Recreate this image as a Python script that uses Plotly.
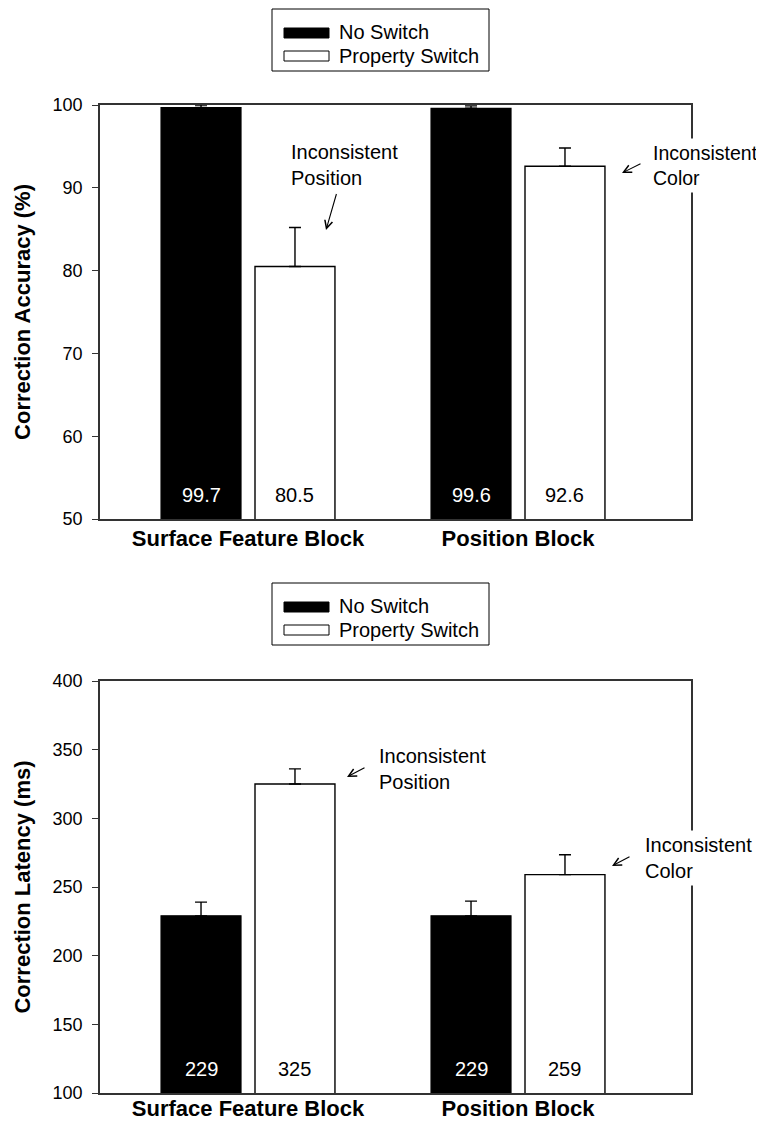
import plotly.graph_objects as go

# ---------------- data ----------------
groups = ["Surface Feature Block", "Position Block"]
series_names = ["No Switch", "Property Switch"]

acc_no_switch = [99.7, 99.6]
acc_switch = [80.5, 92.6]
acc_no_switch_err = [0.3, 0.3]
acc_switch_err = [4.7, 2.2]

lat_no_switch = [229, 229]
lat_switch = [325, 259]
lat_no_switch_err = [10, 10.7]
lat_switch_err = [11, 14.5]

acc_ticks = [50, 60, 70, 80, 90, 100]
lat_ticks = [100, 150, 200, 250, 300, 350, 400]

# ---------------- layout helpers ----------------
# the page body has an 8px default margin; the figure is sized so the page
# does not overflow the window, and positions are expressed in window pixels
PAGE_OFF = 8
W, H = 764 - PAGE_OFF, 1130 - 2 * PAGE_OFF
PLOT_L, PLOT_R, PLOT_T, PLOT_B = 100, 691, 105, 1093      # window pixels
L = PLOT_L - PAGE_OFF
T = PLOT_T - PAGE_OFF
R = W - (PLOT_R - PAGE_OFF)
B = H - (PLOT_B - PAGE_OFF)
FONT = "Liberation Sans, Arial, Helvetica, sans-serif"
AX = "#333333"
BARGAP = 0.304
BARGROUPGAP = 0.149
OFF = (1 - BARGAP) / 4


def px(x):
    return (x - PLOT_L) / (PLOT_R - PLOT_L)


def py(y):
    return (PLOT_B - y) / (PLOT_B - PLOT_T)


fig = go.Figure()

panels = [
    ("x", "y", acc_no_switch, acc_switch, acc_no_switch_err, acc_switch_err),
    ("x2", "y2", lat_no_switch, lat_switch, lat_no_switch_err, lat_switch_err),
]
for xa, ya, v0, v1, e0, e1 in panels:
    fig.add_trace(go.Bar(
        x=groups, y=v0, name=series_names[0], xaxis=xa, yaxis=ya,
        marker=dict(color="black", line=dict(color="black", width=1.2)),
        error_y=dict(type="data", symmetric=False, array=e0, arrayminus=[0] * len(e0),
                     color="black", thickness=1.4, width=6),
        showlegend=False,
    ))
    fig.add_trace(go.Bar(
        x=groups, y=v1, name=series_names[1], xaxis=xa, yaxis=ya,
        marker=dict(color="white", line=dict(color="black", width=1.4)),
        error_y=dict(type="data", symmetric=False, array=e1, arrayminus=[0] * len(e1),
                     color="black", thickness=1.4, width=6),
        showlegend=False,
    ))

annotations = []
shapes = []

# value labels inside bars
for xa, ya, v0, v1, ymin in [("x", "y", acc_no_switch, acc_switch, acc_ticks[0]),
                             ("x2", "y2", lat_no_switch, lat_switch, lat_ticks[0])]:
    for i in range(len(groups)):
        for vals, sign, col in [(v0, -1, "white"), (v1, 1, "black")]:
            annotations.append(dict(
                x=i + sign * OFF, y=ymin, xref=xa, yref=ya, text=f"{vals[i]:g}",
                showarrow=False, yanchor="middle", yshift=24,
                font=dict(family=FONT, size=20, color=col),
            ))

# legends (drawn manually with long swatches like the original)
for top in [9, 583]:
    shapes.append(dict(type="rect", xref="paper", yref="paper",
                       x0=px(272), x1=px(489), y0=py(top), y1=py(top + 62),
                       line=dict(color="black", width=1), fillcolor="white", layer="above"))
    shapes.append(dict(type="rect", xref="paper", yref="paper",
                       x0=px(284), x1=px(329), y0=py(top + 19), y1=py(top + 29),
                       line=dict(color="black", width=1), fillcolor="black", layer="above"))
    shapes.append(dict(type="rect", xref="paper", yref="paper",
                       x0=px(284), x1=px(329), y0=py(top + 42), y1=py(top + 52),
                       line=dict(color="black", width=1), fillcolor="white", layer="above"))
    for name, dy in [(series_names[0], 23), (series_names[1], 47)]:
        annotations.append(dict(x=px(337), y=py(top + dy), xref="paper", yref="paper",
                                text=name, showarrow=False, xanchor="left", yanchor="middle",
                                font=dict(family=FONT, size=20, color="black")))

# callout texts
callouts = [
    ("Inconsistent<br>Position", 287, 137, 20),
    ("Inconsistent<br>Color", 649, 138, 19.5),
    ("Inconsistent<br>Position", 375, 741, 20),
    ("Inconsistent<br>Color", 641, 830, 20),
]
for txt, x0, y0, fs in callouts:
    annotations.append(dict(x=px(x0), y=py(y0), xref="paper", yref="paper", text=txt,
                            showarrow=False, xanchor="left", yanchor="top", align="left",
                            bgcolor="white", borderpad=3,
                            font=dict(family=FONT, size=fs, color="black")))

# arrows (tail -> head) in window pixels
arrows = [
    ((337, 192), (326, 230)),
    ((642, 163), (622, 173)),
    ((366, 767), (347, 777)),
    ((631, 856), (612, 866)),
]
for (tx, ty), (hx, hy) in arrows:
    annotations.append(dict(x=px(hx), y=py(hy), xref="paper", yref="paper",
                            ax=tx - hx, ay=ty - hy, text=" ", showarrow=True,
                            arrowhead=5, arrowsize=1.4, arrowwidth=1.1, arrowcolor="black",
                            standoff=0, startstandoff=0, font=dict(size=1)))

xaxis_common = dict(
    type="category", range=[(100 - 248) / 270, (691 - 248) / 270],
    showline=True, linecolor=AX, linewidth=1.5, mirror=True, ticks="",
    showgrid=False, zeroline=False,
    tickfont=dict(family=FONT, size=22, color="black", weight="bold"),
)
yaxis_common = dict(
    showline=True, linecolor=AX, linewidth=1.5, mirror=True, ticks="outside",
    ticklen=6, tickcolor=AX, tickwidth=1.2, showgrid=False, zeroline=False,
    tickfont=dict(family=FONT, size=18, color="black"),
    ticklabelstandoff=6,
)

fig.update_layout(
    width=W, height=H,
    margin=dict(l=L, r=R, t=T, b=B, autoexpand=False),
    paper_bgcolor="white", plot_bgcolor="white",
    barmode="group", bargap=BARGAP, bargroupgap=BARGROUPGAP,
    font=dict(family=FONT, color="black"),
    xaxis=dict(**xaxis_common, anchor="y", domain=[0, 1], ticklabelstandoff=-1),
    yaxis=dict(**yaxis_common, anchor="x", domain=[py(519), 1],
               range=[acc_ticks[0], acc_ticks[-1]], tickvals=acc_ticks,
               title=dict(text="Correction Accuracy (%)", standoff=16,
                          font=dict(family=FONT, size=22, color="black", weight="bold"))),
    xaxis2=dict(**xaxis_common, anchor="y2", domain=[0, 1], ticklabelstandoff=-5),
    yaxis2=dict(**yaxis_common, anchor="x2", domain=[0, py(681)],
                range=[lat_ticks[0], lat_ticks[-1]], tickvals=lat_ticks,
                title=dict(text="Correction Latency (ms)", standoff=16,
                           font=dict(family=FONT, size=22, color="black", weight="bold"))),
    annotations=annotations,
    shapes=shapes,
    showlegend=False,
)

fig.write_html("out.html")
